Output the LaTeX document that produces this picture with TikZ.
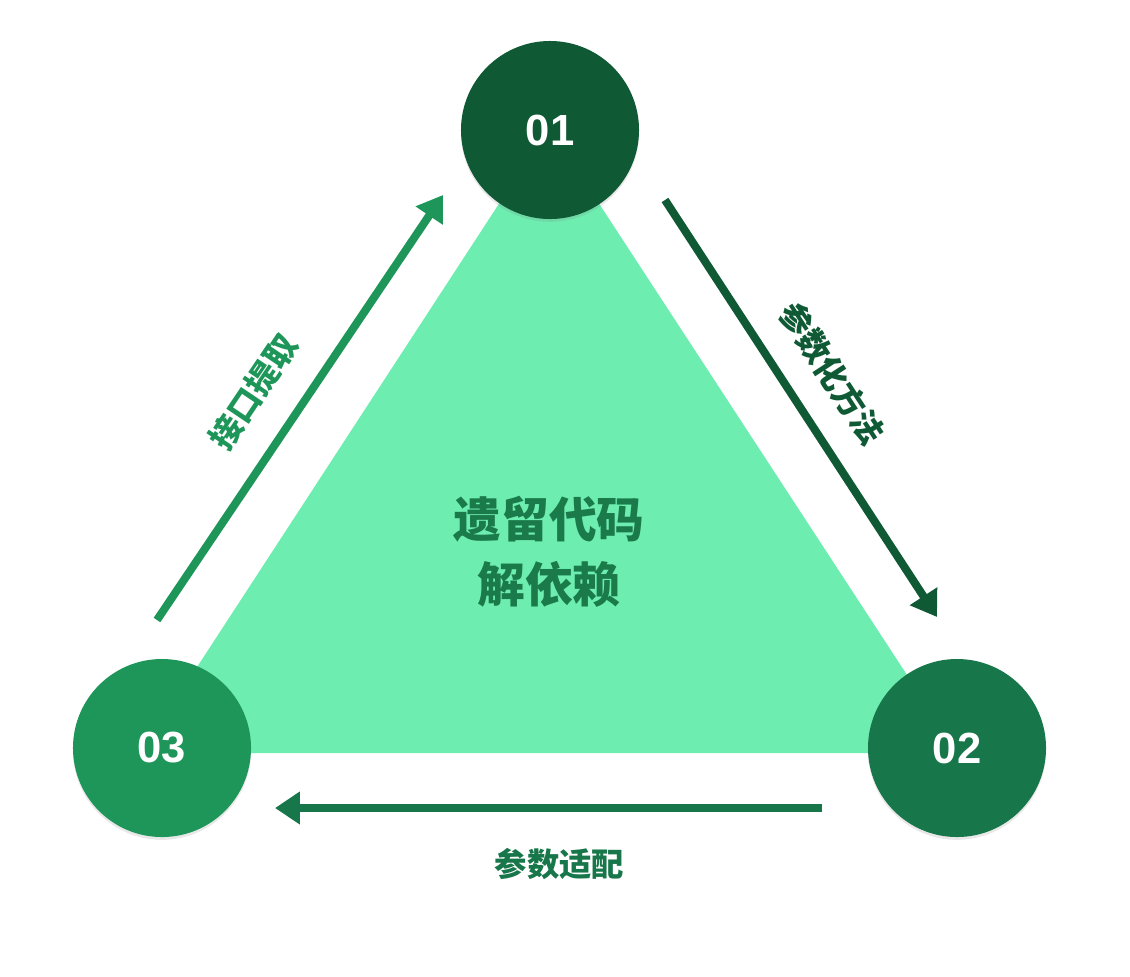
\documentclass[tikz,border=0pt]{standalone}
\usepackage{fontspec}
\newfontfamily\cjk{Noto Sans CJK SC}
\newfontfamily\digits{Liberation Sans}
\usetikzlibrary{arrows.meta, positioning, shadows}

\definecolor{gone}{HTML}{0F5A35}
\definecolor{gtwo}{HTML}{18774A}
\definecolor{gthree}{HTML}{1E9659}
\definecolor{gtri}{HTML}{6DEDB0}
\definecolor{gtext}{HTML}{1B7A4A}

\begin{document}
\begin{tikzpicture}[x=0.025cm, y=-0.025cm, >={Triangle[length=0.62cm, width=0.78cm]}]
    \tikzstyle{stage} = [circle, minimum size=4.45cm, inner sep=0pt, text=white, font=\digits\bfseries\fontsize{31}{36}\selectfont, drop shadow={opacity=0.18, shadow xshift=0pt, shadow yshift=-2pt}]
    \tikzstyle{flow} = [->, line width=0.2cm]
    \tikzstyle{lbl} = [font=\cjk\bfseries\fontsize{23}{27}\selectfont]

    \useasboundingbox (0,0) rectangle (1130,976);

    % centre triangle
    \fill[gtri] (549,127) -- (958,753) -- (141,753) -- cycle;
    \node[text=gtext, font=\cjk\bfseries\fontsize{34}{46}\selectfont, align=center] (core) at (549,552) {遗留代码\\解依赖};

    % stages
    \node[stage, fill=gone] (s1) at (550,130) {01};
    \node[stage, fill=gtwo] (s2) at (957,748) {02};
    \node[stage, fill=gthree] (s3) at (162,748) {03};

    % arrow ends
    \coordinate (a1s) at (157,620);
    \coordinate (a1e) at (443,195);
    \coordinate (a2s) at (665,200);
    \coordinate (a2e) at (937,617);
    \coordinate (a3s) at (822,808);
    \coordinate (a3e) at (275,808);

    \draw[flow, gthree] (a1s) -- (a1e) node[pos=0.475, lbl, text=gthree, sloped, above=0.58cm] {接口提取};
    \draw[flow, gone] (a2s) -- (a2e) node[pos=0.475, lbl, text=gone, sloped, above=0.52cm] {参数化方法};
    \draw[flow, gtwo] (a3s) -- (a3e) node[pos=0.48, lbl, text=gtwo, below=0.8cm] {参数适配};
\end{tikzpicture}
\end{document}
